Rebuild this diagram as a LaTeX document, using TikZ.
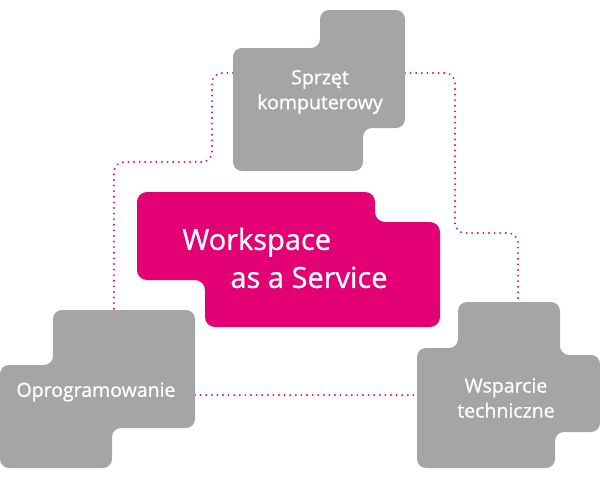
\documentclass[tikz,border=0pt]{standalone}
\usepackage{fontspec}
\setmainfont{Open Sans}
\newfontfamily\tilefont[FakeBold=0.9]{Open Sans}
\usetikzlibrary{positioning}
\definecolor{tmagenta}{HTML}{E20074}
\definecolor{tilegray}{HTML}{A5A5A5}

\begin{document}
\begin{tikzpicture}[x=1pt, y=-1pt,
  tile/.style={fill=tilegray, rounded corners=9pt},
  hub/.style={fill=tmagenta, rounded corners=10pt},
  tiletext/.style={text=white, align=center, inner sep=0pt, font=\tilefont\fontsize{19.5}{25}\selectfont},
  hubtext/.style={text=white, align=left, inner sep=0pt, font=\tilefont\fontsize{29}{38}\selectfont},
  link/.style={draw=tmagenta, line width=2.1pt, line cap=round, dash pattern=on 0pt off 5.6pt, rounded corners=10pt}]
\useasboundingbox (0,0) rectangle (600,480);

% Connector ends
\coordinate (hw-w) at (233,73);
\coordinate (hw-e) at (405,73);
\coordinate (sw-n) at (114,310);
\coordinate (sw-e) at (195,395);
\coordinate (sp-n) at (518,302);
\coordinate (sp-w) at (417,395);

% Dotted links
\draw[link] (hw-w) -| (212,162) -| (sw-n);
\draw[link] (hw-e) -| (455,233) -| (sp-n);
\draw[link] (sw-e) -- (sp-w);

% Tiles
\fill[tile] (320,10) -- (405,10) -- (405,128) -- (363,128) -- (363,171) -- (233,171) -- (233,48) -- (320,48) -- cycle;
\fill[hub] (137,192) -- (375,192) -- (375,222) -- (440,222) -- (440,327) -- (205,327) -- (205,280) -- (137,280) -- cycle;
\fill[tile] (53,310) -- (195,310) -- (195,428) -- (112,428) -- (112,468) -- (0,468) -- (0,365) -- (53,365) -- cycle;
\fill[tile] (458,302) -- (560,302) -- (560,355) -- (600,355) -- (600,432) -- (555,432) -- (555,468) -- (417,468) -- (417,348) -- (458,348) -- cycle;

% Labels
\node[hubtext] (waas) at (285,258) {Workspace\\\hspace*{48pt}as a Service};
\node[tiletext] (hardware) at (320,92) {Sprzęt\\komputerowy};
\node[tiletext] (software) at (96,392) {Oprogramowanie};
\node[tiletext] (support) at (506,398) {Wsparcie\\techniczne};
\end{tikzpicture}
\end{document}
